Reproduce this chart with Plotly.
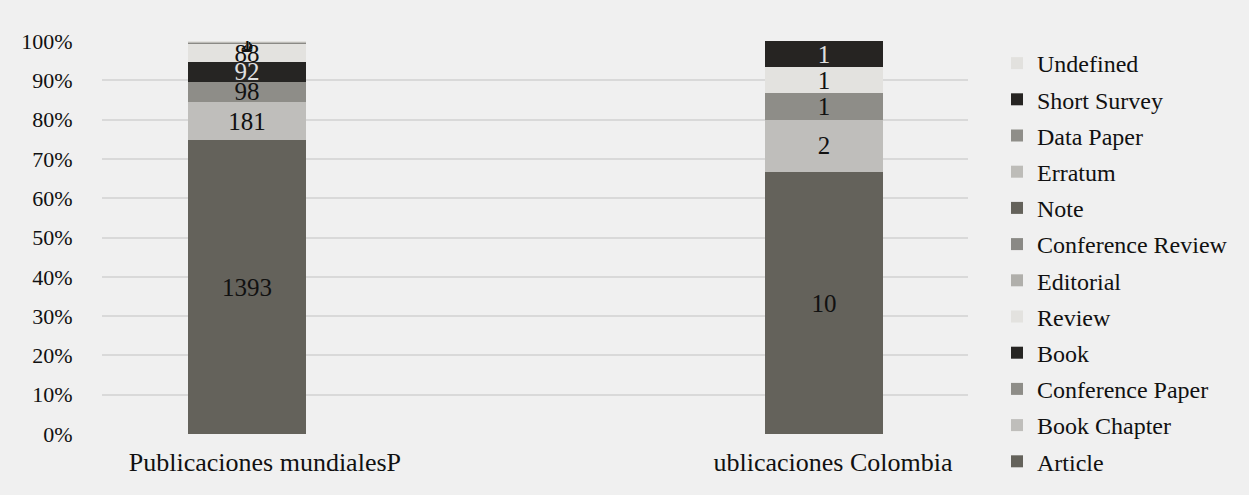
import plotly.graph_objects as go

# Publication types, bottom of the stack first
doc_types = [
    "Article", "Book Chapter", "Conference Paper", "Book", "Review",
    "Editorial", "Conference Review", "Note", "Erratum", "Data Paper",
    "Short Survey", "Undefined",
]
world_counts = [1393, 181, 98, 92, 88, 3, 3, 2, 2, 1, 1, 1]
colombia_counts = [10, 2, 1, 0, 1, 0, 0, 0, 0, 0, 1, 0]
group_labels = ["Publicaciones mundialesP", "ublicaciones Colombia"]

colors = [
    "#64625b", "#bfbebb", "#8e8d88", "#262523", "#e3e2df",
    "#b0afab", "#8a8985", "#64625b", "#bdbcb8", "#8f8e89",
    "#262422", "#e2e1de",
]
dark_types = {"Book", "Short Survey"}

FONT = "Liberation Serif"
BG = "#f0f0f0"

world_total = sum(world_counts)
colombia_total = sum(colombia_counts)

fig = go.Figure()
for i, name in enumerate(doc_types):
    counts = [world_counts[i], colombia_counts[i]]
    shares = [world_counts[i] / world_total, colombia_counts[i] / colombia_total]
    labels = [str(c) if c > 0 else "" for c in counts]
    fig.add_trace(go.Bar(
        x=[0, 1],
        y=shares,
        name=name,
        width=0.203,
        marker=dict(color=colors[i], line=dict(width=0)),
        text=labels,
        textposition="inside",
        insidetextanchor="middle",
        constraintext="none",
        textangle=0,
        textfont=dict(family=FONT, size=25,
                      color="#e0e0e0" if name in dark_types else "#111111"),
        legendgroup=name,
        legendrank=100 - i,  # top of the stack listed first
        hoverinfo="name+text",
    ))

fig.update_layout(
    width=1249,
    height=495,
    barmode="stack",
    paper_bgcolor=BG,
    plot_bgcolor=BG,
    margin=dict(l=102, r=281, t=41, b=61),
    font=dict(family=FONT, size=22, color="#111111"),
    showlegend=True,
    legend=dict(
        traceorder="grouped",
        x=1.0335, xanchor="left",
        y=1.0, yanchor="top",
        font=dict(family=FONT, size=24, color="#111111"),
        tracegroupgap=2,
        itemwidth=30,
        maxheight=490,
        bgcolor="rgba(0,0,0,0)",
    ),
    xaxis=dict(
        range=[-0.2513, 1.2496],
        tickvals=[0.031, 1.0155],
        ticktext=group_labels,
        showgrid=False,
        zeroline=False,
        showline=False,
        ticks="outside",
        ticklen=5,
        tickcolor=BG,
        tickfont=dict(family=FONT, size=26),
    ),
    yaxis=dict(
        range=[0, 1],
        tickvals=[i / 10 for i in range(11)],
        tickformat=".0%",
        showgrid=True,
        gridcolor="#d9d9d9",
        gridwidth=1.5,
        zeroline=False,
        ticks="outside",
        ticklen=24,
        tickcolor=BG,
        tickfont=dict(family=FONT, size=22),
    ),
)

fig.write_html("out.html")
